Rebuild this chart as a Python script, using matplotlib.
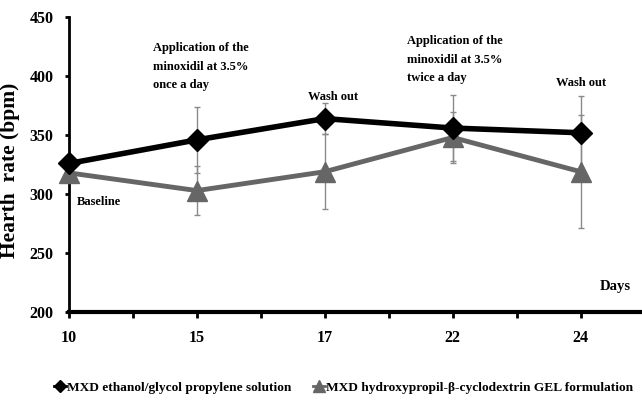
import numpy as np
import matplotlib.pyplot as plt
from matplotlib.lines import Line2D

days = ["10", "15", "17", "22", "24"]
sol_mean = [326, 346, 364, 356, 352]
sol_err = [0, 28, 13, 28, 31]
gel_mean = [318, 303, 319, 348, 319]
gel_err = [0, 21, 32, 22, 48]

plt.rcParams['font.family'] = ['Liberation Serif', 'DejaVu Serif']
plt.rcParams['font.weight'] = 'bold'
plt.rcParams['axes.labelweight'] = 'bold'

fig = plt.figure(figsize=(6.42, 4.08), dpi=100)
ax = fig.add_axes([0.1075, 0.235, 0.8925, 0.723])

x = np.arange(len(days))
ax.errorbar(x, sol_mean, yerr=sol_err, fmt='none', ecolor='#8a8a8a', elinewidth=1, capsize=2, zorder=1)
ax.errorbar(x, gel_mean, yerr=gel_err, fmt='none', ecolor='#8a8a8a', elinewidth=1, capsize=2, zorder=1)
ax.plot(x, sol_mean, color='black', lw=4, marker='D', ms=11, zorder=4, clip_on=False)
ax.plot(x, gel_mean, color='#666666', lw=3.5, marker='^', ms=14, zorder=3, clip_on=False)

ax.set_xlim(0, 4.48)
ax.set_ylim(200, 450)
ax.set_yticks([200, 250, 300, 350, 400, 450])
ax.set_xticks(x)
ax.set_xticklabels(days)
ax.set_xticks(np.arange(0.5, 4.5, 1), minor=True)
ax.tick_params(axis='x', which='both', direction='out', length=4, width=2, pad=9, labelsize=11.5)
ax.tick_params(axis='y', direction='out', length=3, width=2, pad=8, labelsize=11.5)
for s in ['top', 'right']:
    ax.spines[s].set_visible(False)
ax.spines['left'].set_linewidth(2)
ax.spines['bottom'].set_linewidth(3)

ax.set_ylabel("Hearth  rate (bpm)", fontsize=15.5)
ax.yaxis.set_label_coords(-0.085, 0.48)

fs = 9
ax.text(0.656, 429, "Application of the\nminoxidil at 3.5%\nonce a day", fontsize=fs, va='top', linespacing=1.75)
ax.text(1.867, 382, "Wash out", fontsize=fs, va='center')
ax.text(2.64, 435, "Application of the\nminoxidil at 3.5%\ntwice a day", fontsize=fs, va='top', linespacing=1.75)
ax.text(3.81, 394, "Wash out", fontsize=fs, va='center')
ax.text(0.0625, 293, "Baseline", fontsize=fs, va='center')
ax.text(4.15, 222, "Days", fontsize=10.5, va='center')

handles = [Line2D([], [], color='black', marker='D', ms=6, lw=2),
           Line2D([], [], color='#666666', marker='^', ms=8, lw=2)]
fig.legend(handles, ["MXD ethanol/glycol propylene solution", "MXD hydroxypropil-β-cyclodextrin GEL formulation"],
           loc='center', bbox_to_anchor=(0.535, 0.05), ncol=2, frameon=False, fontsize=9.6,
           handlelength=0.9, handletextpad=0.1, columnspacing=1.6)

plt.savefig("out.png", dpi=100)
